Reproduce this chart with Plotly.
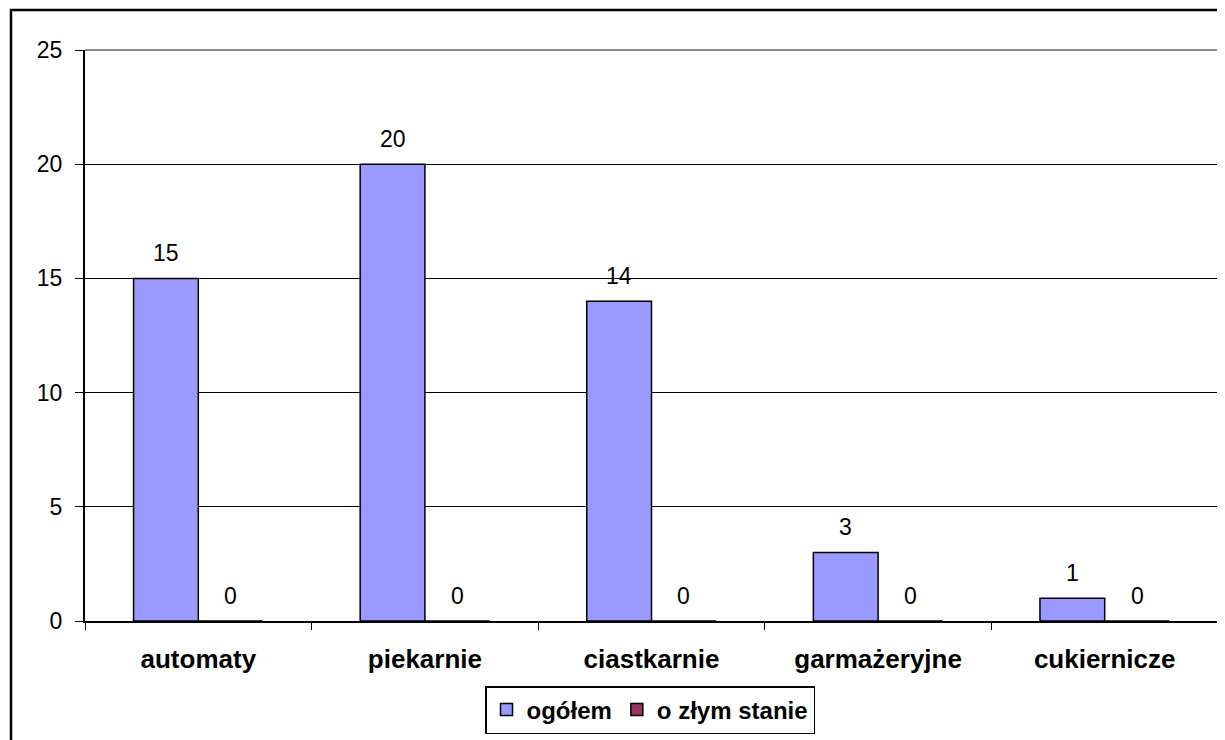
import plotly.graph_objects as go

categories = ["automaty", "piekarnie", "ciastkarnie", "garmażeryjne", "cukiernicze"]
ogolem = [15, 20, 14, 3, 1]
zly_stan = [0, 0, 0, 0, 0]
series_names = ["ogółem", "o złym stanie"]
y_ticks = [0, 5, 10, 15, 20, 25]

FONT = "Liberation Sans, Arial, sans-serif"
OFF = 8  # page body margin

W, H = 1225 - OFF, 740 - OFF
L, T = 85 - OFF, 50 - OFF
R = W - (1218 - OFF)
B = H - (621 - OFF)
pw, ph = W - L - R, H - T - B
BARGAP = 0.4286

def px_x(x):
    return (x - OFF - L) / pw

def px_y(y):
    return (H - B - (y - OFF)) / ph

fig = go.Figure()
fig.add_trace(go.Bar(
    x=categories, y=ogolem, name=series_names[0],
    marker=dict(color="#9999FF", line=dict(color="black", width=1.5)),
))
fig.add_trace(go.Bar(
    x=categories, y=zly_stan, name=series_names[1],
    marker=dict(color="#993366", line=dict(color="black", width=1.5)),
))

bar_px = pw / len(categories) * (1 - BARGAP) / 2
annotations = []
for vals, sh in ((ogolem, -bar_px / 2), (zly_stan, bar_px / 2)):
    for c, v in zip(categories, vals):
        annotations.append(dict(
            x=c, y=v, xref="x", yref="y", text=str(v), showarrow=False,
            xshift=sh, yshift=10, yanchor="bottom",
            font=dict(family=FONT, size=23, color="black"),
        ))

fig.update_layout(
    width=W, height=H,
    margin=dict(l=L, r=R, t=T, b=B, autoexpand=False),
    paper_bgcolor="white", plot_bgcolor="white",
    barmode="group", bargap=BARGAP, bargroupgap=0,
    font=dict(family=FONT, size=23, color="black"),
    showlegend=True,
    legend=dict(
        orientation="h", x=px_x(650), xanchor="center",
        y=px_y(686), yanchor="top",
        bordercolor="black", borderwidth=1.5,
        font=dict(family=FONT, size=24, color="black", weight="bold"),
        itemwidth=30, tracegroupgap=0,
    ),
    xaxis=dict(
        type="category", showline=True, linecolor="black", linewidth=2,
        ticks="outside", tickson="boundaries", ticklen=7, tickcolor="black", tickwidth=1,
        tickfont=dict(family=FONT, size=26, color="black", weight="bold"),
        ticklabelstandoff=14, showgrid=False,
    ),
    yaxis=dict(
        range=[0, 25], tickvals=y_ticks, showline=True, linecolor="black", linewidth=2,
        ticks="outside", ticklen=8, tickcolor="black", tickwidth=1,
        tickfont=dict(family=FONT, size=23, color="black"),
        ticklabelstandoff=8,
        showgrid=True, gridcolor="black", gridwidth=1.2, zeroline=False,
    ),
    annotations=annotations,
    shapes=[
        dict(type="line", xref="paper", yref="paper", x0=0, x1=1, y0=1, y1=1,
             line=dict(color="#888888", width=2), layer="above"),
        dict(type="line", xref="paper", yref="paper", x0=1, x1=1, y0=0, y1=1,
             line=dict(color="#888888", width=2), layer="above"),
        dict(type="rect", xref="paper", yref="paper",
             x0=px_x(11), x1=px_x(1260), y0=px_y(780), y1=px_y(10),
             line=dict(color="black", width=2.5), fillcolor="rgba(0,0,0,0)"),
    ],
)

fig.write_html("out.html")
